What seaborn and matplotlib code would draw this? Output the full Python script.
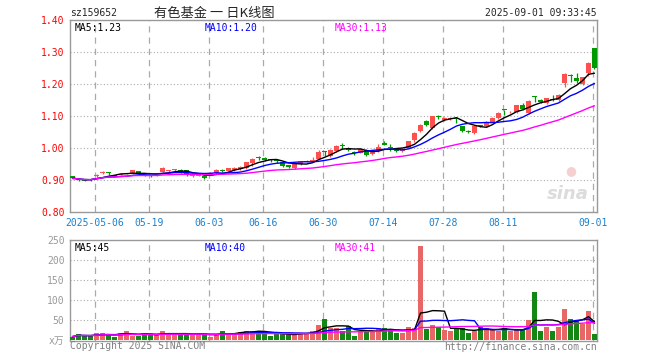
import numpy as np
import pandas as pd
import seaborn as sns
import matplotlib.pyplot as plt

# daily candles, 2025-04-25 .. 2025-09-01 (88 trading days)
opens = [0.912, 0.902, 0.900, 0.902, 0.911, 0.922, 0.922, 0.915, 0.917, 0.920,
         0.921, 0.927, 0.915, 0.915, 0.914, 0.926, 0.928, 0.930, 0.931, 0.931,
         0.911, 0.913, 0.914, 0.918, 0.921, 0.930, 0.929, 0.931, 0.934, 0.936,
         0.952, 0.971, 0.969, 0.963, 0.961, 0.956, 0.946, 0.938, 0.949, 0.957,
         0.958, 0.967, 0.990, 0.975, 0.991, 1.008, 1.000, 0.987, 0.985, 0.995,
         0.981, 0.990, 1.017, 1.001, 0.995, 0.992, 1.001, 1.025, 1.053, 1.084,
         1.061, 1.098, 1.086, 1.091, 1.093, 1.068, 1.052, 1.048, 1.071, 1.068,
         1.082, 1.094, 1.119, 1.111, 1.112, 1.133, 1.108, 1.159, 1.150, 1.140,
         1.151, 1.150, 1.203, 1.225, 1.219, 1.200, 1.234, 1.313]
closes = [0.906, 0.900, 0.898, 0.900, 0.916, 0.923, 0.921, 0.914, 0.920, 0.921,
          0.930, 0.919, 0.914, 0.913, 0.916, 0.939, 0.929, 0.931, 0.923, 0.916,
          0.916, 0.914, 0.906, 0.920, 0.931, 0.929, 0.936, 0.939, 0.941, 0.956,
          0.967, 0.970, 0.962, 0.962, 0.960, 0.943, 0.940, 0.952, 0.956, 0.958,
          0.964, 0.987, 0.989, 0.995, 1.005, 1.007, 0.994, 0.983, 0.997, 0.979,
          0.990, 1.002, 1.010, 1.000, 0.990, 0.998, 1.022, 1.048, 1.073, 1.073,
          1.099, 1.097, 1.094, 1.092, 1.092, 1.053, 1.051, 1.068, 1.070, 1.082,
          1.094, 1.110, 1.118, 1.112, 1.133, 1.122, 1.148, 1.158, 1.145, 1.155,
          1.150, 1.166, 1.232, 1.224, 1.208, 1.221, 1.266, 1.250]
highs = [0.914, 0.905, 0.902, 0.904, 0.918, 0.927, 0.925, 0.917, 0.922, 0.923,
         0.931, 0.928, 0.918, 0.917, 0.918, 0.940, 0.931, 0.934, 0.935, 0.932,
         0.918, 0.917, 0.915, 0.924, 0.933, 0.933, 0.938, 0.942, 0.943, 0.957,
         0.968, 0.975, 0.971, 0.965, 0.964, 0.957, 0.948, 0.953, 0.958, 0.962,
         0.972, 0.994, 0.992, 0.997, 1.010, 1.015, 1.002, 0.990, 0.998, 0.998,
         0.992, 1.012, 1.022, 1.012, 0.997, 1.000, 1.023, 1.050, 1.075, 1.086,
         1.101, 1.104, 1.096, 1.096, 1.096, 1.070, 1.056, 1.070, 1.072, 1.084,
         1.096, 1.114, 1.120, 1.116, 1.135, 1.140, 1.150, 1.163, 1.153, 1.157,
         1.166, 1.168, 1.234, 1.230, 1.235, 1.223, 1.270, 1.313]
lows = [0.904, 0.897, 0.896, 0.898, 0.909, 0.918, 0.917, 0.911, 0.915, 0.918,
        0.920, 0.917, 0.911, 0.910, 0.912, 0.925, 0.925, 0.927, 0.921, 0.914,
        0.909, 0.911, 0.903, 0.916, 0.920, 0.926, 0.927, 0.929, 0.932, 0.934,
        0.945, 0.962, 0.960, 0.957, 0.952, 0.940, 0.938, 0.935, 0.947, 0.955,
        0.956, 0.965, 0.975, 0.972, 0.989, 0.997, 0.990, 0.978, 0.983, 0.975,
        0.978, 0.988, 1.008, 0.990, 0.988, 0.988, 0.999, 1.020, 1.050, 1.068,
        1.059, 1.090, 1.083, 1.086, 1.079, 1.050, 1.047, 1.045, 1.066, 1.066,
        1.080, 1.092, 1.104, 1.108, 1.110, 1.118, 1.105, 1.145, 1.140, 1.138,
        1.148, 1.148, 1.190, 1.205, 1.204, 1.196, 1.225, 1.248]
# volume, 万手
volumes = [9, 15, 11, 11, 17, 17, 15, 9, 18, 24,
           11, 11, 15, 15, 15, 22, 15, 15, 15, 15,
           15, 15, 15, 9, 15, 24, 15, 19, 21, 24,
           24, 24, 17, 11, 15, 15, 15, 15, 19, 19,
           24, 39, 54, 31, 31, 24, 36, 11, 22, 26,
           22, 31, 31, 26, 19, 19, 34, 31, 236, 29,
           39, 32, 26, 22, 29, 31, 19, 22, 32, 31,
           26, 24, 31, 22, 26, 26, 51, 121, 22, 34,
           24, 34, 78, 54, 49, 40, 72, 16]

tick_idx = [4, 13, 23, 32, 42, 52, 62, 72, 87]
tick_labels = ["2025-05-06", "05-19", "06-03", "06-16", "06-30",
               "07-14", "07-28", "08-11", "09-01"]

RED = "#ff5050"
GREEN = "#009900"
GRID = "#aaaaaa"
MONO = ["DejaVu Sans Mono", "Noto Sans CJK SC"]

df = pd.DataFrame({"open": opens, "close": closes, "high": highs,
                   "low": lows, "vol": volumes})
df["i"] = np.arange(len(df))
df["up"] = np.where(df["close"] >= df["open"], "up", "down")
for n in (5, 10, 30):
    df[f"ma{n}"] = df["close"].rolling(n, min_periods=1).mean()
    df[f"vma{n}"] = df["vol"].rolling(n, min_periods=1).mean()
colors = np.where(df["up"] == "up", RED, GREEN)

sns.set_theme(style="white")
plt.rcParams["font.family"] = MONO

W, H = 660, 360
fig = plt.figure(figsize=(6.6, 3.6), dpi=100)
ax1 = fig.add_axes([70 / W, 1 - 212 / H, 527 / W, 192 / H])
ax2 = fig.add_axes([70 / W, 1 - 341 / H, 527 / W, 101 / H])

xmin, xmax = (70 - 72.5) / 6, (597 - 72.5) / 6
grid_x = [t - 0.3 for t in tick_idx]

# price panel
body_lo = np.minimum(df["open"], df["close"])
body_h = np.maximum((df["close"] - df["open"]).abs(), 0.003)
ax1.vlines(df["i"], df["low"], df["high"], colors=colors, linewidth=0.9, zorder=3)
ax1.bar(df["i"], body_h, bottom=body_lo, width=0.82, color=colors,
        linewidth=0, zorder=3)
sns.lineplot(x=df["i"], y=df["ma5"], color="black", linewidth=1.0, ax=ax1, zorder=4)
sns.lineplot(x=df["i"], y=df["ma10"], color="#0000ff", linewidth=1.0, ax=ax1, zorder=4)
sns.lineplot(x=df["i"], y=df["ma30"], color="#ff00ff", linewidth=1.0, ax=ax1, zorder=4)

ax1.set_xlim(xmin, xmax)
ax1.set_ylim(0.80, 1.40)
ax1.set_yticks(np.arange(0.8, 1.41, 0.1))
ax1.set_yticklabels([f"{v:.2f}" for v in np.arange(0.8, 1.41, 0.1)],
                    color="red", fontsize=7, family=MONO)
ax1.set_xticks(grid_x)
ax1.set_xticklabels(tick_labels, color="#1a80d0", fontsize=7, family=MONO)
ax1.tick_params(length=0, pad=4)
ax1.set_xlabel("")
ax1.set_ylabel("")
for v in np.arange(0.9, 1.31, 0.1):
    ax1.axhline(v, color=GRID, linestyle=(0, (1, 2)), linewidth=0.8, zorder=1)
for gx in grid_x:
    ax1.axvline(gx, color=GRID, linestyle=(0, (5, 4)), linewidth=0.9, zorder=1)

ax1.text(0.008, 0.985, "MA5:1.23", transform=ax1.transAxes, color="black",
         fontsize=7, va="top", family=MONO)
ax1.text(0.255, 0.985, "MA10:1.20", transform=ax1.transAxes, color="#0000ff",
         fontsize=7, va="top", family=MONO)
ax1.text(0.503, 0.985, "MA30:1.13", transform=ax1.transAxes, color="#ff00ff",
         fontsize=7, va="top", family=MONO)
ax1.text(0.945, 0.07, "sina", transform=ax1.transAxes, color="#dcdcdc",
         fontsize=13, fontweight="bold", fontstyle="italic", ha="center",
         family="DejaVu Sans", zorder=0)
ax1.text(0.95, 0.2, "●", transform=ax1.transAxes, color="#f6d0d0",
         fontsize=9, ha="center", family="DejaVu Sans", zorder=0)

# volume panel
sns.barplot(x=df["i"], y=df["vol"], hue=df["up"], palette={"up": RED, "down": GREEN},
            native_scale=True, dodge=False, width=0.82, linewidth=0,
            legend=False, ax=ax2, zorder=3)
sns.lineplot(x=df["i"], y=df["vma5"], color="black", linewidth=1.0, ax=ax2, zorder=4)
sns.lineplot(x=df["i"], y=df["vma10"], color="#0000ff", linewidth=1.0, ax=ax2, zorder=4)
sns.lineplot(x=df["i"], y=df["vma30"], color="#ff00ff", linewidth=1.0, ax=ax2, zorder=4)

ax2.set_xlim(xmin, xmax)
ax2.set_ylim(-2, 250)
ax2.set_yticks([0, 50, 100, 150, 200, 250])
ax2.set_yticklabels(["x万", "50", "100", "150", "200", "250"], color="#999999",
                    fontsize=7, family=MONO)
ax2.set_xticks([])
ax2.tick_params(length=0, pad=4)
ax2.set_xlabel("")
ax2.set_ylabel("")
for v in [50, 100, 150, 200]:
    ax2.axhline(v, color=GRID, linestyle=(0, (1, 2)), linewidth=0.8, zorder=1)
for gx in grid_x:
    ax2.axvline(gx, color=GRID, linestyle=(0, (5, 4)), linewidth=0.9, zorder=1)

ax2.text(0.008, 0.97, "MA5:45", transform=ax2.transAxes, color="black",
         fontsize=7, va="top", family=MONO)
ax2.text(0.255, 0.97, "MA10:40", transform=ax2.transAxes, color="#0000ff",
         fontsize=7, va="top", family=MONO)
ax2.text(0.503, 0.97, "MA30:41", transform=ax2.transAxes, color="#ff00ff",
         fontsize=7, va="top", family=MONO)

for ax in (ax1, ax2):
    ax.set_facecolor("white")
    for s in ax.spines.values():
        s.set_color("#999999")
        s.set_linewidth(1.0)

# header / footer
fig.text(70 / W, 1 - 13 / H, "sz159652", fontsize=7, va="center", family=MONO)
fig.text(214 / W, 1 - 13 / H, "有色基金 一 日K线图", fontsize=9.5, va="center",
         ha="center", family=["Noto Sans CJK SC", "DejaVu Sans"])
fig.text(597 / W, 1 - 13 / H, "2025-09-01 09:33:45", fontsize=7, va="center",
         ha="right", family=MONO)
fig.text(70 / W, 1 - 346 / H, "Copyright 2025 SINA.COM", fontsize=7,
         va="center", color="#808080", family=MONO)
fig.text(597 / W, 1 - 347 / H, "http://finance.sina.com.cn", fontsize=7,
         va="center", ha="right", color="#808080", family=MONO)

fig.savefig("out.png", dpi=100)
